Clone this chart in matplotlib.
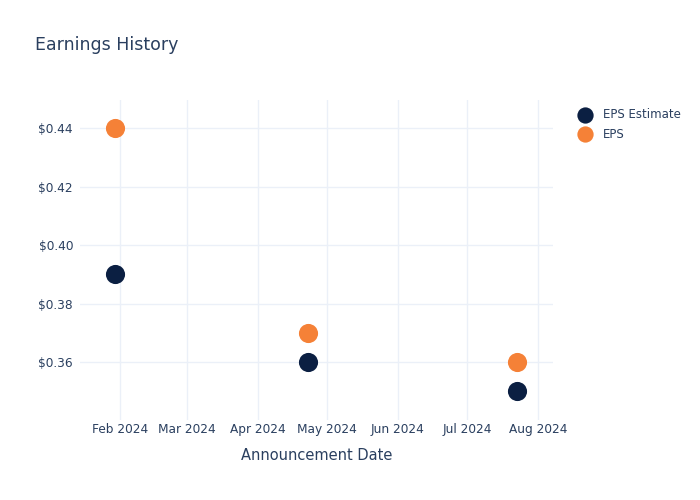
import matplotlib
matplotlib.use("Agg")
import matplotlib.pyplot as plt
import matplotlib.dates as mdates
import pandas as pd
from matplotlib.ticker import FuncFormatter

dates = pd.to_datetime(["2024-01-30", "2024-04-23", "2024-07-23"])
eps_estimate = [0.39, 0.36, 0.35]
eps_actual = [0.44, 0.37, 0.36]

TEXT = "#2a3f5f"
GRID = "#ebf0f8"
NAVY = "#0b1f42"
ORANGE = "#f58137"

plt.rcParams["font.family"] = ["DejaVu Sans"]

fig = plt.figure(figsize=(7, 5), dpi=100)
ax = fig.add_axes([0.1143, 0.16, 0.6757, 0.64])

ax.scatter(dates, eps_estimate, s=190, color=NAVY, label="EPS Estimate", zorder=3, linewidths=0)
ax.scatter(dates, eps_actual, s=190, color=ORANGE, label="EPS", zorder=3, linewidths=0)

ax.set_xlim(pd.Timestamp("2024-01-14 14:00"), pd.Timestamp("2024-08-07 12:00"))
ax.set_ylim(0.3402, 0.4496)
ax.set_yticks([0.36, 0.38, 0.40, 0.42, 0.44])
ax.yaxis.set_major_formatter(FuncFormatter(lambda v, p: f"${v:.2f}"))
ax.xaxis.set_major_locator(mdates.MonthLocator())
ax.xaxis.set_major_formatter(mdates.DateFormatter("%b %Y"))

for s in ax.spines.values():
    s.set_visible(False)
ax.grid(True, color=GRID, linewidth=1)
ax.set_axisbelow(True)
ax.tick_params(axis="y", length=0, labelsize=8.7, colors=TEXT, pad=5)
ax.tick_params(axis="x", length=0, labelsize=8.7, colors=TEXT, pad=2)

ax.set_xlabel("Announcement Date", fontsize=10.5, color=TEXT, labelpad=9)
fig.text(0.05, 0.9, "Earnings History", fontsize=12.5, color=TEXT)

leg = ax.legend(loc="upper left", bbox_to_anchor=(1.02, 1.008), frameon=False,
                fontsize=8.5, labelcolor=TEXT, handletextpad=0.55,
                labelspacing=0.55, markerscale=0.85)

plt.savefig("out.png", dpi=100)
plt.close()
